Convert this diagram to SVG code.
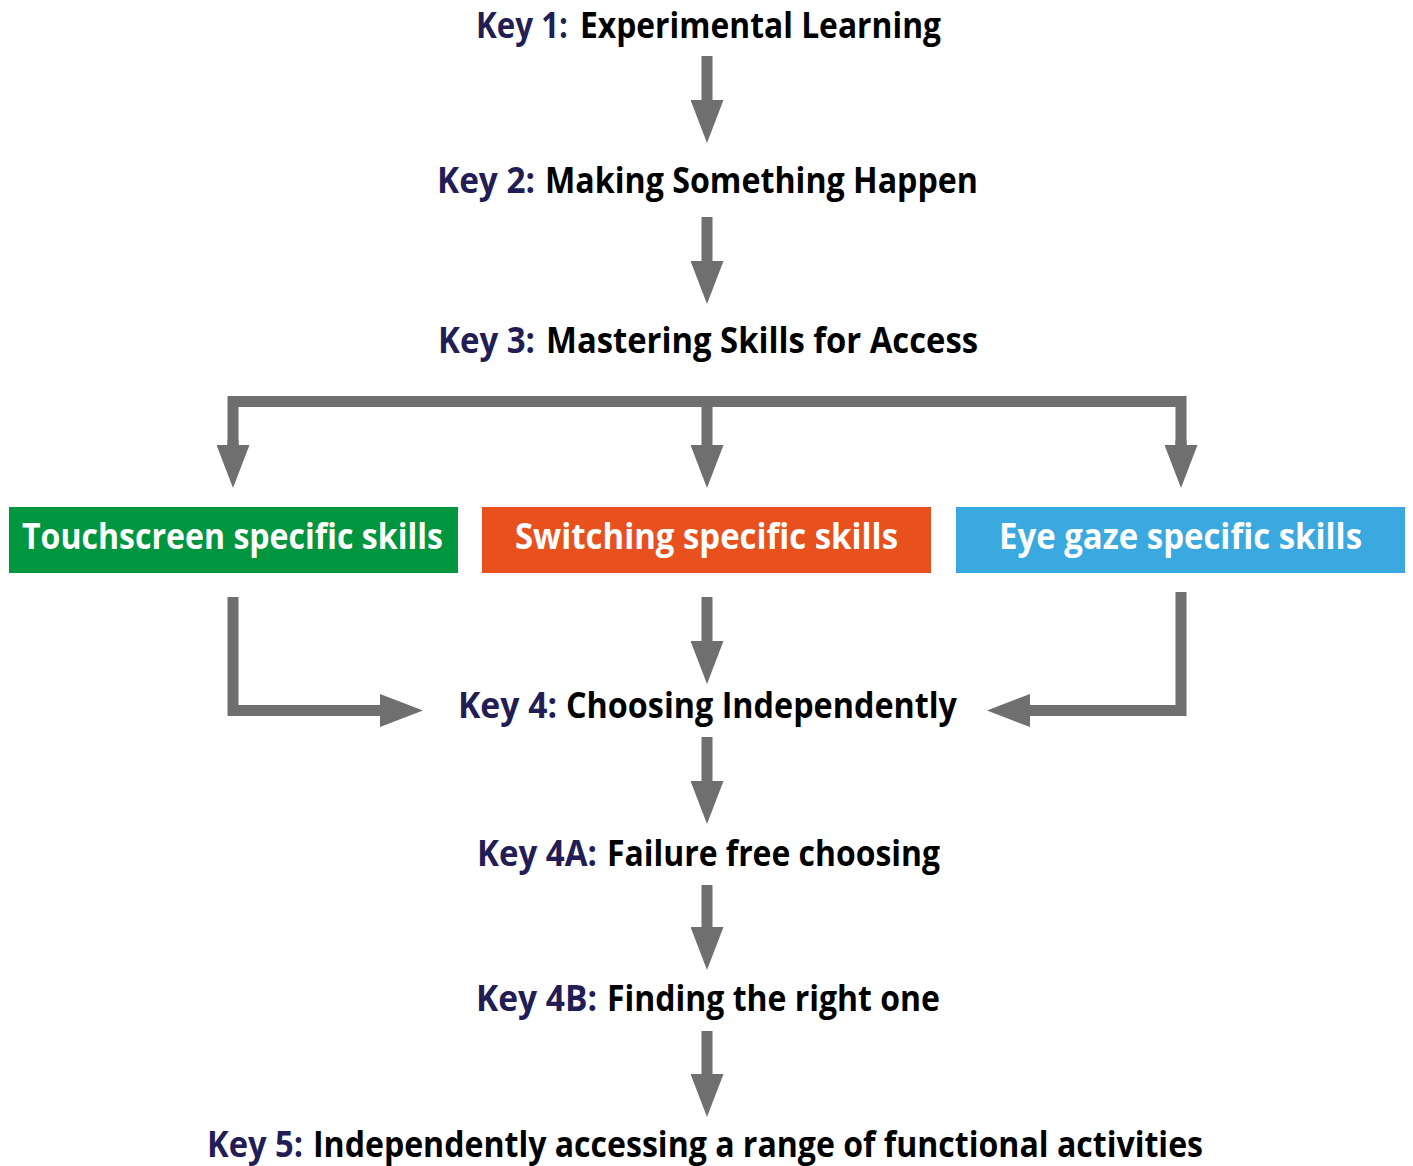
<svg xmlns="http://www.w3.org/2000/svg" width="1413" height="1166" viewBox="0 0 1413 1166">
<style>
  .t { font-family: "Open Sans", "Noto Sans", "Liberation Sans", sans-serif; font-weight: 700; font-size: 36px; fill: #000000; }
  .k { font-family: "Open Sans", "Noto Sans", "Liberation Sans", sans-serif; font-weight: 700; font-size: 36px; fill: #221d55; }
  .bt { font-family: "Open Sans", "Noto Sans", "Liberation Sans", sans-serif; font-weight: 700; font-size: 36px; fill: #ffffff; }
  .c { fill: none; stroke: #6f6f6f; stroke-width: 11; stroke-linejoin: miter; stroke-linecap: butt; }
</style>
<defs>
  <marker id="ah" viewBox="0 0 43 33" refX="0" refY="16.5" markerWidth="43" markerHeight="33" markerUnits="userSpaceOnUse" orient="auto">
    <path d="M0,0 L43,16.5 L0,33 z" fill="#6f6f6f"/>
  </marker>
</defs>
<rect width="1413" height="1166" fill="#ffffff"/>

<g id="connectors">
  <line class="c" x1="707" y1="56" x2="707" y2="100" marker-end="url(#ah)"/>
  <line class="c" x1="707" y1="217" x2="707" y2="261" marker-end="url(#ah)"/>
  <polyline class="c" points="233,445 233,401.5 1181,401.5 1181,445" />
  <line class="c" x1="233" y1="440" x2="233" y2="445" marker-end="url(#ah)"/>
  <line class="c" x1="1181" y1="440" x2="1181" y2="445" marker-end="url(#ah)"/>
  <line class="c" x1="707" y1="401.5" x2="707" y2="445" marker-end="url(#ah)"/>
  <polyline class="c" points="233,597 233,710.5 380,710.5" marker-end="url(#ah)"/>
  <line class="c" x1="707" y1="597" x2="707" y2="641" marker-end="url(#ah)"/>
  <polyline class="c" points="1181,592 1181,710.5 1030,710.5" marker-end="url(#ah)"/>
  <line class="c" x1="707" y1="737" x2="707" y2="781" marker-end="url(#ah)"/>
  <line class="c" x1="707" y1="885" x2="707" y2="927" marker-end="url(#ah)"/>
  <line class="c" x1="707" y1="1031" x2="707" y2="1074" marker-end="url(#ah)"/>
</g>

<g id="key1">
  <text class="k" x="476" y="38" textLength="92" lengthAdjust="spacingAndGlyphs">Key 1:</text>
  <text class="t" x="580" y="38" textLength="361" lengthAdjust="spacingAndGlyphs">Experimental Learning</text>
</g>
<g id="key2">
  <text class="k" x="437" y="193" textLength="98" lengthAdjust="spacingAndGlyphs">Key 2:</text>
  <text class="t" x="545" y="193" textLength="433" lengthAdjust="spacingAndGlyphs">Making Something Happen</text>
</g>
<g id="key3">
  <text class="k" x="438" y="353" textLength="97" lengthAdjust="spacingAndGlyphs">Key 3:</text>
  <text class="t" x="546" y="353" textLength="432" lengthAdjust="spacingAndGlyphs">Mastering Skills for Access</text>
</g>

<g id="touchscreen">
  <rect x="9" y="507" width="449" height="66" fill="#00963f"/>
  <text class="bt" x="22" y="549" textLength="421" lengthAdjust="spacingAndGlyphs">Touchscreen specific skills</text>
</g>
<g id="switching">
  <rect x="482" y="507" width="449" height="66" fill="#e8501e"/>
  <text class="bt" x="515" y="549" textLength="383" lengthAdjust="spacingAndGlyphs">Switching specific skills</text>
</g>
<g id="eyegaze">
  <rect x="956" y="507" width="449" height="66" fill="#3aa9e0"/>
  <text class="bt" x="999" y="549" textLength="363" lengthAdjust="spacingAndGlyphs">Eye gaze specific skills</text>
</g>

<g id="key4">
  <text class="k" x="458" y="718" textLength="99" lengthAdjust="spacingAndGlyphs">Key 4:</text>
  <text class="t" x="566" y="718" textLength="391" lengthAdjust="spacingAndGlyphs">Choosing Independently</text>
</g>
<g id="key4a">
  <text class="k" x="477" y="866" textLength="120" lengthAdjust="spacingAndGlyphs">Key 4A:</text>
  <text class="t" x="607" y="866" textLength="333" lengthAdjust="spacingAndGlyphs">Failure free choosing</text>
</g>
<g id="key4b">
  <text class="k" x="476" y="1011" textLength="121" lengthAdjust="spacingAndGlyphs">Key 4B:</text>
  <text class="t" x="607" y="1011" textLength="333" lengthAdjust="spacingAndGlyphs">Finding the right one</text>
</g>
<g id="key5">
  <text class="k" x="207" y="1157" textLength="96" lengthAdjust="spacingAndGlyphs">Key 5:</text>
  <text class="t" x="313" y="1157" textLength="890" lengthAdjust="spacingAndGlyphs">Independently accessing a range of functional activities</text>
</g>
</svg>
